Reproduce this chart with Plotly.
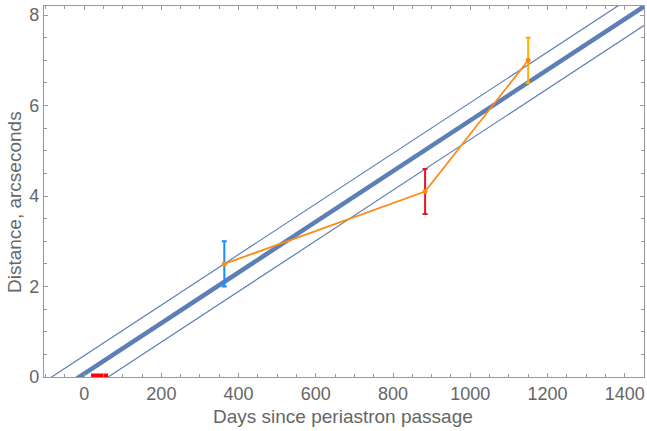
import plotly.graph_objects as go

# Observations: days since periastron, distance (arcsec), error
obs_days = [363, 883, 1150]
obs_dist = [2.5, 4.1, 7.0]
obs_err = [0.5, 0.5, 0.5]
obs_colors = ["#1a8cff", "#f0141e", "#ffb000"]

# Fitted expansion lines (endpoints)
line_days = [-120, 1500]
center_dist = [-0.60, 8.47]
upper_dist = [-0.20, 8.86]
lower_dist = [-1.02, 8.05]

# Periastron interval marker
peri_days = [18, 62]
peri_dist = [0.0, 0.0]

# Tick labels
x_ticks = [0, 200, 400, 600, 800, 1000, 1200, 1400]
y_ticks = [0, 2, 4, 6, 8]

BLUE = "#5b7fb6"
ORANGE = "#ff8a14"
GRAY_TXT = "#666666"
FRAME = "#9a9a9a"
FONT = "Liberation Sans, Arial, sans-serif"

W, H = 647, 431
ML, MR, MT, MB = 44, 3, 6, 54

fig = go.Figure()
fig.add_trace(go.Scatter(x=line_days, y=upper_dist, mode="lines",
                         line=dict(color=BLUE, width=1.2), showlegend=False))
fig.add_trace(go.Scatter(x=line_days, y=lower_dist, mode="lines",
                         line=dict(color=BLUE, width=1.2), showlegend=False))
fig.add_trace(go.Scatter(x=line_days, y=center_dist, mode="lines",
                         line=dict(color=BLUE, width=4.5), showlegend=False))

for d, v, e, c in zip(obs_days, obs_dist, obs_err, obs_colors):
    fig.add_trace(go.Scatter(x=[d], y=[v], mode="markers",
                             marker=dict(size=1, color=c, opacity=0),
                             error_y=dict(type="data", array=[e], color=c,
                                          thickness=2, width=2.5),
                             showlegend=False))

fig.add_trace(go.Scatter(x=obs_days, y=obs_dist, mode="lines+markers",
                         line=dict(color=ORANGE, width=1.8),
                         marker=dict(color=ORANGE, size=5), showlegend=False))

fig.add_trace(go.Scatter(x=peri_days, y=peri_dist, mode="lines",
                         line=dict(color="#ff0000", width=7), showlegend=False))

axis_common = dict(showline=True, linecolor=FRAME, linewidth=1.2, mirror="ticks",
                   ticks="inside", tickcolor=FRAME, ticklen=4, tickwidth=1,
                   showgrid=False, zeroline=False, automargin=False,
                   tickfont=dict(family=FONT, size=18, color=GRAY_TXT))

plot_h = H - MT - MB
plot_w = W - ML - MR

fig.update_layout(
    width=W, height=H,
    margin=dict(l=ML, r=MR, t=MT, b=MB),
    paper_bgcolor="white", plot_bgcolor="white",
    xaxis=dict(range=[-104, 1450], tickvals=x_ticks,
               minor=dict(dtick=50, tick0=0, ticks="inside", ticklen=2.5,
                          tickcolor=FRAME, showgrid=False),
               **axis_common),
    yaxis=dict(range=[0, 8.2], tickvals=y_ticks,
               minor=dict(dtick=0.5, tick0=0, ticks="inside", ticklen=2.5,
                          tickcolor=FRAME, showgrid=False),
               **axis_common),
)
fig.add_annotation(text="Days since periastron passage", showarrow=False,
                   xref="paper", yref="paper", xanchor="center", yanchor="middle",
                   x=(343 - ML) / plot_w, y=(H - MB - 416) / plot_h,
                   font=dict(family=FONT, size=19, color=GRAY_TXT))
fig.add_annotation(text="Distance, arcseconds", textangle=-90, showarrow=False,
                   xref="paper", yref="paper", xanchor="center", yanchor="middle",
                   x=(14 - ML) / plot_w, y=(H - MB - 202) / plot_h,
                   font=dict(family=FONT, size=19, color=GRAY_TXT))

fig.write_html("out.html", config={"displayModeBar": False},
               post_script="document.body.style.margin='0';")
